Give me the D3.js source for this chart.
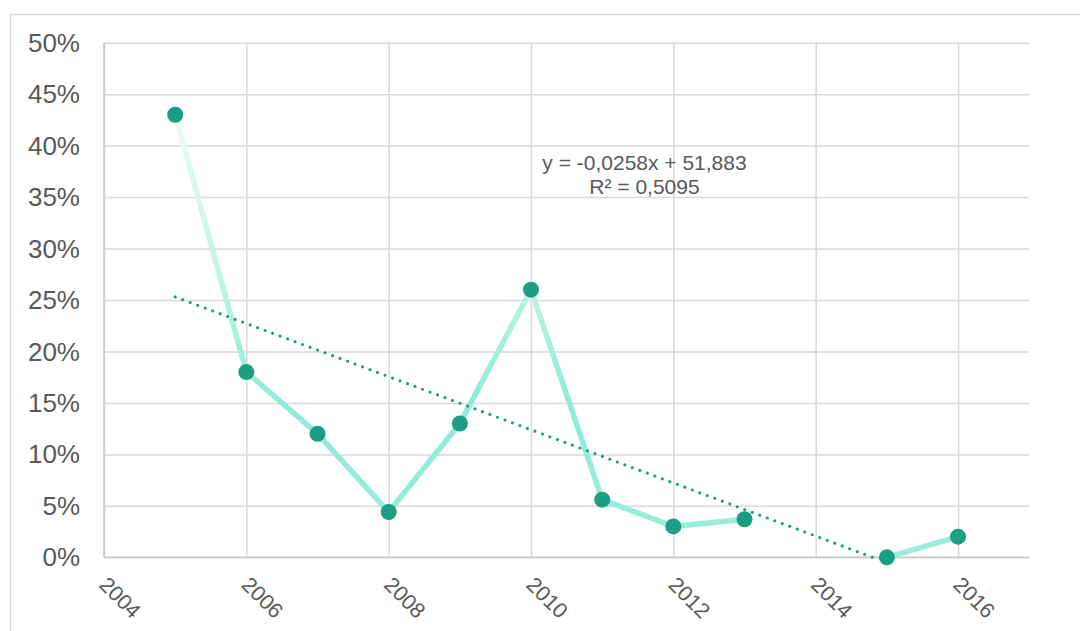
<!DOCTYPE html>
<html>
<head>
<meta charset="utf-8">
<script src="https://cdn.jsdelivr.net/npm/d3@7"></script>
<style>
  html, body { margin: 0; padding: 0; background: #ffffff; }
  svg { display: block; }
  text { font-family: "Liberation Sans", Arial, sans-serif; fill: #595959; }
</style>
</head>
<body>
<svg id="chart" width="1080" height="631"></svg>
<script>
// Yearly share (%) — 2014 has no value, so the line breaks there
const years  = [2005, 2006, 2007, 2008, 2009, 2010, 2011, 2012, 2013, 2014, 2015, 2016];
const values = [43, 18, 12, 4.4, 13, 26, 5.6, 3.0, 3.7, null, 0, 2.0];

// Linear trend line end points (clipped at 0%)
const trendYears  = [2005, 2014.8];
const trendValues = [25.3, 0];

// Axis ticks
const xTicks = [2004, 2006, 2008, 2010, 2012, 2014, 2016];
const yTicks = [0, 5, 10, 15, 20, 25, 30, 35, 40, 45, 50];

// Trend line label
const trendLabel = ["y = -0,0258x + 51,883", "R² = 0,5095"];

const svg = d3.select("#chart");

// Chart frame
svg.append("rect")
  .attr("x", 10.5).attr("y", 14.5)
  .attr("width", 1200).attr("height", 800)
  .attr("fill", "none").attr("stroke", "#d9d9d9").attr("stroke-width", 1.5);

const plot = { left: 104, top: 42.7, right: 1029.2, bottom: 557.3 };

const x = d3.scaleLinear().domain([2004, 2017]).range([plot.left, plot.right]);
const y = d3.scaleLinear().domain([0, 50]).range([plot.bottom, plot.top]);

// Horizontal gridlines
svg.append("g")
  .attr("transform", `translate(${plot.left},0)`)
  .call(d3.axisLeft(y).tickValues(yTicks).tickSize(-(plot.right - plot.left)).tickFormat(""))
  .call(g => g.select(".domain").remove())
  .call(g => g.selectAll(".tick line").attr("stroke", "#d9d9d9").attr("stroke-width", 1.5));

// Vertical gridlines
svg.append("g")
  .attr("transform", `translate(0,${plot.bottom})`)
  .call(d3.axisBottom(x).tickValues(xTicks).tickSize(-(plot.bottom - plot.top)).tickFormat(""))
  .call(g => g.select(".domain").remove())
  .call(g => g.selectAll(".tick line").attr("stroke", "#d9d9d9").attr("stroke-width", 1.5));

// Axis lines
svg.append("line")
  .attr("x1", plot.left).attr("x2", plot.right)
  .attr("y1", plot.bottom).attr("y2", plot.bottom)
  .attr("stroke", "#c8c8c8").attr("stroke-width", 1.5);
svg.append("line")
  .attr("x1", plot.left).attr("x2", plot.left)
  .attr("y1", plot.top).attr("y2", plot.bottom)
  .attr("stroke", "#c8c8c8").attr("stroke-width", 1.5);

// Y tick labels
svg.append("g").selectAll("text")
  .data(yTicks)
  .join("text")
  .attr("x", 80)
  .attr("y", d => y(d))
  .attr("dy", "0.35em")
  .attr("text-anchor", "end")
  .attr("font-size", 26)
  .text(d => d + "%");

// X tick labels, rotated
svg.append("g").selectAll("text")
  .data(xTicks)
  .join("text")
  .attr("transform", d => `translate(${x(d) - 6},${586}) rotate(45)`)
  .attr("text-anchor", "start")
  .attr("font-size", 21.5)
  .text(d => d);

// Vertical colour fade on the series line
const defs = svg.append("defs");
const grad = defs.append("linearGradient")
  .attr("id", "lineFade")
  .attr("gradientUnits", "userSpaceOnUse")
  .attr("x1", 0).attr("x2", 0)
  .attr("y1", y(43)).attr("y2", y(0));
grad.append("stop").attr("offset", "0%").attr("stop-color", "#effcf8");
grad.append("stop").attr("offset", "40%").attr("stop-color", "#b9f3e5");
grad.append("stop").attr("offset", "65%").attr("stop-color", "#8eecd6");
grad.append("stop").attr("offset", "100%").attr("stop-color", "#9aeeda");

const series = years.map((yr, i) => ({ year: yr, value: values[i] }));

const line = d3.line()
  .defined(d => d.value !== null)
  .x(d => x(d.year))
  .y(d => y(d.value));

svg.append("path")
  .datum(series)
  .attr("d", line)
  .attr("fill", "none")
  .attr("stroke", "url(#lineFade)")
  .attr("stroke-width", 5.5)
  .attr("stroke-linejoin", "round");

// Dotted trend line
const trend = trendYears.map((yr, i) => ({ year: yr, value: trendValues[i] }));
svg.append("path")
  .datum(trend)
  .attr("d", d3.line().x(d => x(d.year)).y(d => y(d.value)))
  .attr("fill", "none")
  .attr("stroke", "#1a9e82")
  .attr("stroke-width", 3.2)
  .attr("stroke-linecap", "round")
  .attr("stroke-dasharray", "0 8");

// Markers
svg.append("g").selectAll("circle")
  .data(series.filter(d => d.value !== null))
  .join("circle")
  .attr("cx", d => x(d.year))
  .attr("cy", d => y(d.value))
  .attr("r", 8)
  .attr("fill", "#1b9e82");

// Trend equation
const eq = svg.append("text")
  .attr("text-anchor", "middle")
  .attr("font-size", 21);
eq.selectAll("tspan")
  .data(trendLabel)
  .join("tspan")
  .attr("x", 644.5)
  .attr("y", (d, i) => 170 + i * 24)
  .text(d => d);
</script>
</body>
</html>
